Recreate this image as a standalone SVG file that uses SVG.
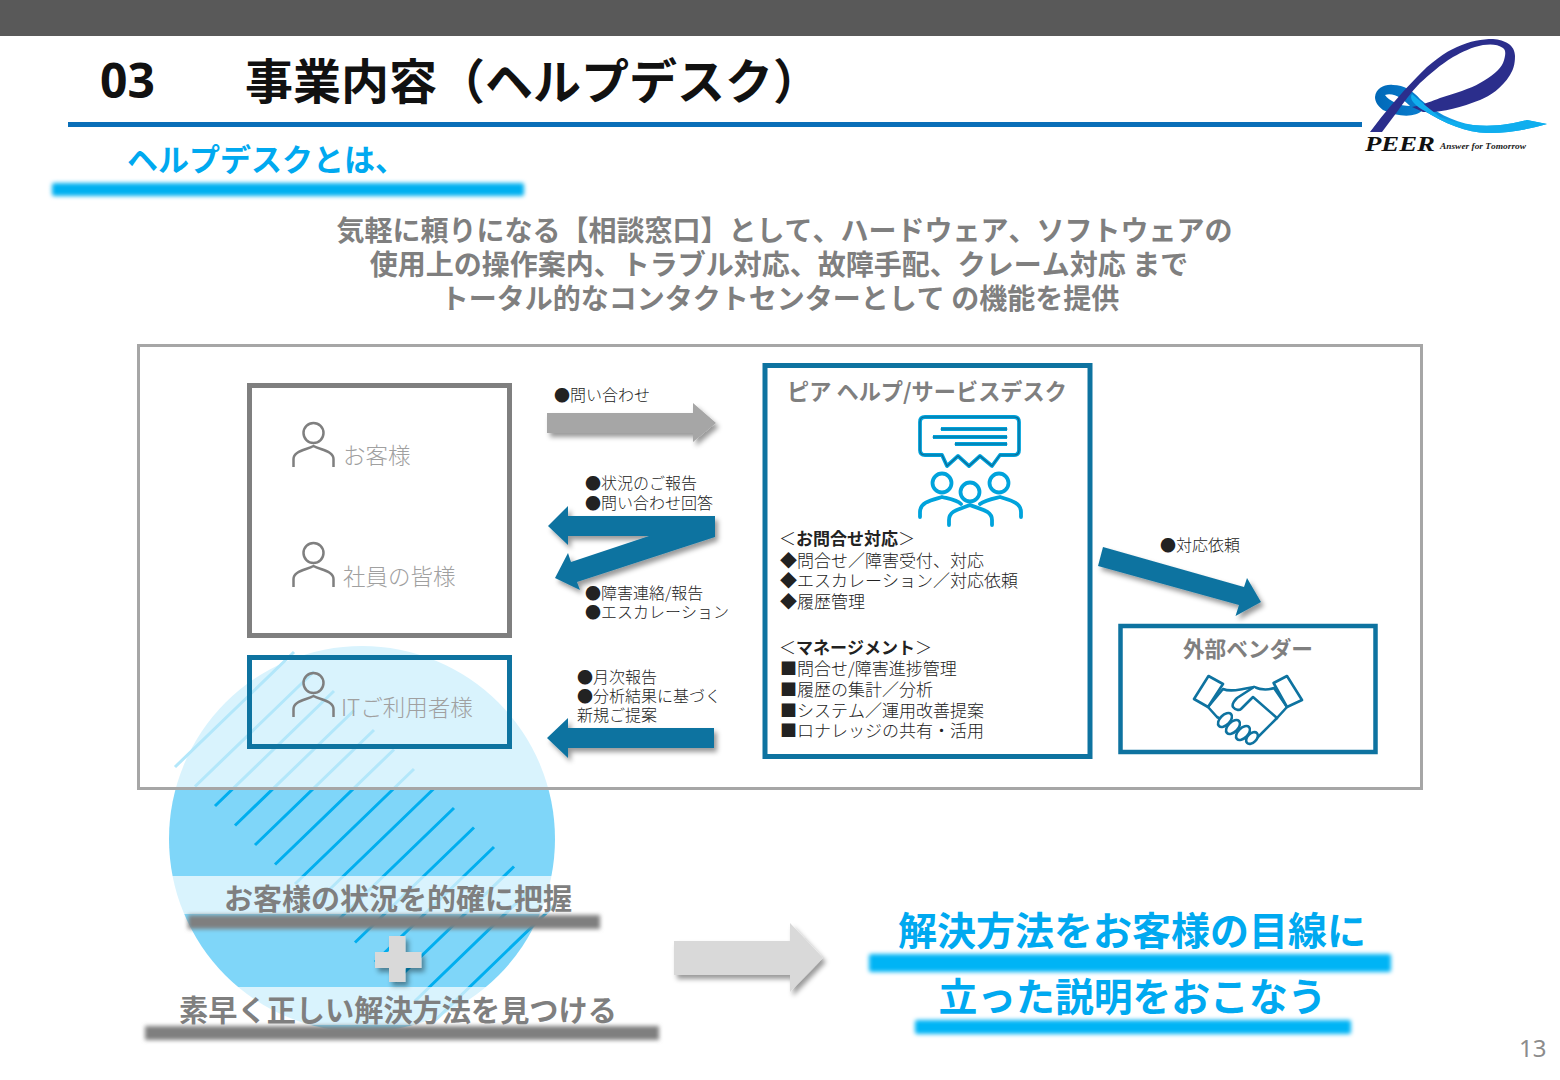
<svg xmlns="http://www.w3.org/2000/svg" width="1560" height="1080" viewBox="0 0 1560 1080">
<defs>
<style>
text{font-family:"Noto Sans CJK JP","Noto Sans",sans-serif;font-kerning:none}
.b{font-weight:700}
.c{text-anchor:middle}
.g{fill:#7f7f7f}
.lt{fill:#a0a0a0;font-size:22.5px;font-weight:300}
.s{font-size:16px;fill:#222;font-weight:300}
.d{font-size:17px;fill:#222;font-weight:300}
.ic{fill:none;stroke:#7f7f7f;stroke-width:2.5}
.blue{fill:#0e73a0}
.hs{fill:#fff;stroke:#0e73a0;stroke-width:2.6;stroke-linejoin:round;stroke-linecap:round}
.cy{fill:none;stroke:#00a3dc;stroke-width:3.800;stroke-linecap:round;stroke-linejoin:round}
.cy2{fill:none;stroke:#0b6c96;stroke-width:1.200;stroke-linecap:round;stroke-linejoin:round}
</style>
<filter id="sh" x="-20%" y="-40%" width="140%" height="200%"><feDropShadow dx="3" dy="4" stdDeviation="2.500" flood-color="#000" flood-opacity=".4"/></filter>
<filter id="gl" x="-5%" y="-80%" width="110%" height="260%"><feGaussianBlur stdDeviation="2"/></filter>
<linearGradient id="rib" x1="1375" y1="0" x2="1547" y2="0" gradientUnits="userSpaceOnUse"><stop offset="0" stop-color="#0068b7"/><stop offset=".28" stop-color="#0a7fd0"/><stop offset=".5" stop-color="#14a8ec"/><stop offset="1" stop-color="#00b4f0"/></linearGradient>
<g id="person"><circle cx="313.500" cy="433" r="10" class="ic"/><path class="ic" d="M293.500 467V459C293.500 451 306 450 313.500 446C321 450 333.500 451 333.500 459V467"/></g>
<path id="bubble" d="M925 417H1014Q1019 417 1019 422V450Q1019 455 1014 455H1000L992 466L980 456L969 466L958 456L947 466L942 455H925Q920 455 920 450V422Q920 417 925 417Z"/>
<path id="bubble-lines" d="M941 429H1007M933 437H1007M955 444H1007"/>
</defs>
<rect width="1560" height="1080" fill="#fff"/>
<g id="header">
<rect width="1560" height="36" fill="#595959"/>
<text x="100" y="98" class="b" font-size="48" fill="#111" style='font-family:"Noto Sans",sans-serif'>03</text>
<text x="245" y="99" class="b" font-size="48" fill="#111">事業内容（ヘルプデスク）</text>
<rect x="68" y="122" width="1294" height="5" fill="#0a6fb8"/>
</g>
<g id="logo">
<path d="M1375 97C1376 88 1385 84 1393 85C1404 85 1413 91 1420 99C1434 111 1452 122 1473 125C1495 127 1512 124 1527 120L1547 124C1530 129 1510 133 1490 133C1470 134 1445 124 1423 110C1415 118 1398 117 1383 110C1378 106 1375 102 1375 97ZM1385 95C1389 101 1400 106 1410 106C1404 100 1394 92 1385 95Z" fill="url(#rib)" fill-rule="evenodd"/>
<path d="M1370 132C1385 112 1400 94 1417 77C1430 63 1445 52 1457 47C1470 41 1482 39 1493 39C1505 40 1515 45 1515 56C1515 65 1513 70 1510 75C1502 88 1490 96 1480 100C1460 108 1440 113 1423 112L1412 107C1425 104 1432 101 1440 98C1455 93 1470 89 1480 83C1492 76 1500 70 1503 63C1506 55 1506 50 1503 48C1498 44 1490 44 1483 45C1472 47 1462 52 1453 57C1440 65 1430 74 1420 83C1411 92 1404 102 1397 112L1382 132Z" fill="#2b2e8c"/>
<path d="M1412 94C1420 101 1432 111 1440 117C1452 122 1462 124 1473 125C1495 127 1512 124 1527 120L1547 124C1530 129 1510 133 1490 133C1470 134 1445 124 1423 110C1418 107 1408 100 1412 94Z" fill="#10aeee"/>
<text x="1365" y="151" font-size="21" font-weight="700" font-style="italic" fill="#111" textLength="70" lengthAdjust="spacingAndGlyphs" style='font-family:"Liberation Serif",serif'>PEER</text>
<text x="1440" y="149" font-size="8" font-weight="700" font-style="italic" fill="#222" textLength="86" lengthAdjust="spacingAndGlyphs" style='font-family:"Liberation Serif",serif'>Answer for Tomorrow</text>
</g>
<g id="intro">
<rect x="52" y="183" width="472" height="13" rx="2" fill="#00b0f0" filter="url(#gl)"/>
<text x="127" y="171" class="b" font-size="31" fill="#00a9f0">ヘルプデスクとは、</text>
<g class="b g" font-size="28">
<text x="784.500" y="241" class="c">気軽に頼りになる【相談窓口】として、ハードウェア、ソフトウェアの</text>
<text x="779" y="275" class="c">使用上の操作案内、トラブル対応、故障手配、クレーム対応 まで</text>
<text x="780" y="309" class="c">トータル的なコンタクトセンターとして の機能を提供</text>
</g>
</g>
<g id="highlight">
<circle cx="362" cy="839" r="193" fill="#7fd6f9"/>
<path stroke="#00aeef" stroke-width="3" d="M175 767L294 652M195 786.500L314 671.500M215 806L334 691M235 825.500L354 710.500M255 845L374 730M275 864.500L394 749.500M295 884L414 769M315 903.500L434 788.500M335 923L454 808M355 942.500L474 827.500M375 962L494 847M395 981.500L514 866.500M415 1001L534 886M435 1020.500L554 905.500"/>
</g>
<g id="frame"><rect x="138.500" y="345.500" width="1283" height="443" fill="#fff" fill-opacity=".7" stroke="#a6a6a6" stroke-width="3"/></g>
<g id="node-customers">
<rect x="249.500" y="385.500" width="260" height="250" fill="#fff" stroke="#7f7f7f" stroke-width="5"/>
<use href="#person"/>
<text x="343" y="464" class="lt">お客様</text>
<use href="#person" y="120"/>
<text x="343" y="585" class="lt">社員の皆様</text>
</g>
<g id="node-it-users">
<rect x="249.500" y="657.500" width="260" height="89" fill="none" stroke="#0e73a0" stroke-width="5"/>
<use href="#person" y="250"/>
<text x="341" y="716" class="lt">ITご利用者様</text>
</g>
<g id="connectors">
<path d="M547 413H693V403L716 423L693 442V433H547Z" fill="#a6a6a6" filter="url(#sh)"/>
<path d="M715 516H568V506L548 526L568 545V536H649L571 562L568 553L555 578L580 590L577 582L715 537Z" class="blue" filter="url(#sh)"/>
<path d="M714 728H568V718L547 738L568 758V748H714Z" class="blue" filter="url(#sh)"/>
<path d="M1103 547L1244 587L1247 578L1261 602L1235.500 616L1239 605L1098 566Z" class="blue" filter="url(#sh)"/>
<path d="M674 941H790V923L823 958L790 992V975H674Z" fill="#d9d9d9" filter="url(#sh)"/>
</g>
<g id="connector-labels">
<text x="554" y="401" class="s">●問い合わせ</text>
<text class="s"><tspan x="585" y="489">●状況のご報告</tspan><tspan x="585" y="509">●問い合わせ回答</tspan></text>
<text class="s"><tspan x="585" y="599">●障害連絡/報告</tspan><tspan x="585" y="618">●エスカレーション</tspan></text>
<text class="s"><tspan x="577" y="683">●月次報告</tspan><tspan x="577" y="702">●分析結果に基づく</tspan><tspan x="577" y="721">新規ご提案</tspan></text>
<text x="1160" y="551" class="s">●対応依頼</text>
</g>
<g id="node-desk">
<rect x="765" y="365.500" width="325" height="391" fill="#fff" stroke="#0e73a0" stroke-width="5"/>
<text x="927" y="400" class="c b g" font-size="22.200">ピア ヘルプ/サービスデスク</text>
<g id="icon-chat">
<use href="#bubble" class="cy"/>
<use href="#bubble-lines" class="cy" style="stroke-linecap:butt"/>
<circle class="cy" cx="942" cy="483" r="9.500"/><circle class="cy" cx="999" cy="483" r="9.500"/><circle class="cy" cx="970" cy="492" r="9.500"/>
<path class="cy" d="M920 517V512C920 502 932 500 942 497C950 499 957 500 961 504"/>
<path class="cy" d="M980 504C985 500 991 499 1000 497C1009 500 1021 502 1021 512V517"/>
<path class="cy" d="M949 525V520C949 510 961 509 970 505C979 509 992 510 992 520V525"/>
<use href="#bubble" class="cy2"/>
<use href="#bubble-lines" class="cy2"/>
</g>
<text class="d"><tspan x="779" y="545">＜</tspan><tspan class="b">お問合せ対応</tspan><tspan>＞</tspan><tspan x="780" y="567">◆問合せ／障害受付、対応</tspan><tspan x="780" y="587">◆エスカレーション／対応依頼</tspan><tspan x="780" y="608">◆履歴管理</tspan></text>
<text class="d"><tspan x="779" y="654">＜</tspan><tspan class="b">マネージメント</tspan><tspan>＞</tspan><tspan x="780" y="675">■問合せ/障害進捗管理</tspan><tspan x="780" y="696">■履歴の集計／分析</tspan><tspan x="780" y="717">■システム／運用改善提案</tspan><tspan x="780" y="737">■ロナレッジの共有・活用</tspan></text>
</g>
<g id="node-vendor">
<rect x="1120.500" y="626" width="255" height="126" fill="#fff" stroke="#0e73a0" stroke-width="4.500"/>
<text x="1248" y="657" class="c b g" font-size="21.700">外部ベンダー</text>
<g id="icon-handshake">
<path class="hs" d="M1208 707L1223 689C1230 692 1237 690 1243 689L1254 687C1261 690 1268 690 1274 688L1287 707L1277 718L1255 740L1240 730L1217 717Z"/>
<path class="hs" d="M1254 687L1237 698C1233 702 1232 705 1233 707C1236 711 1240 710 1241 709L1253 697L1277 718"/>
<path class="hs" d="M1194 699L1208.500 676L1223 684L1208 707ZM1302 700L1287 676L1273.600 683L1287 707Z"/>
<ellipse class="hs" cx="1225" cy="720" rx="8.500" ry="5" transform="rotate(-45 1225 720)"/>
<ellipse class="hs" cx="1233" cy="727" rx="8.500" ry="5" transform="rotate(-45 1233 727)"/>
<ellipse class="hs" cx="1243" cy="733" rx="8.500" ry="5" transform="rotate(-45 1243 733)"/>
<ellipse class="hs" cx="1252" cy="738" rx="7" ry="4.500" transform="rotate(-45 1252 738)"/>
</g>
</g>
<g id="summary">
<rect x="170" y="876" width="385" height="38" fill="#fff" fill-opacity=".7"/>
<rect x="170" y="987" width="385" height="38" fill="#fff" fill-opacity=".7"/>
<rect x="188" y="915" width="412" height="14" fill="#7f7f7f" filter="url(#gl)"/>
<rect x="145" y="1026" width="514" height="14" fill="#7f7f7f" filter="url(#gl)"/>
<text x="398" y="910" class="c b g" font-size="29">お客様の状況を的確に把握</text>
<text x="398" y="1021" class="c b g" font-size="29.200">素早く正しい解決方法を見つける</text>
<path d="M389 936H405.500V952H421.500V968H405.500V982H389V968H375V952H389Z" fill="#d9d9d9" filter="url(#sh)"/>
<rect x="869" y="954" width="522" height="18" rx="2" fill="#00b4f5" filter="url(#gl)"/>
<rect x="915" y="1020" width="436" height="14" rx="2" fill="#00b4f5" filter="url(#gl)"/>
<text x="1132" y="945" class="c b" font-size="39" fill="#00a9f0">解決方法をお客様の目線に</text>
<text x="1132.500" y="1011" class="c b" font-size="38.800" fill="#00a9f0">立った説明をおこなう</text>
</g>
<text id="page-number" x="1519" y="1057" font-size="24" fill="#8c8c8c" style='font-family:"Noto Sans",sans-serif'>13</text>
</svg>
